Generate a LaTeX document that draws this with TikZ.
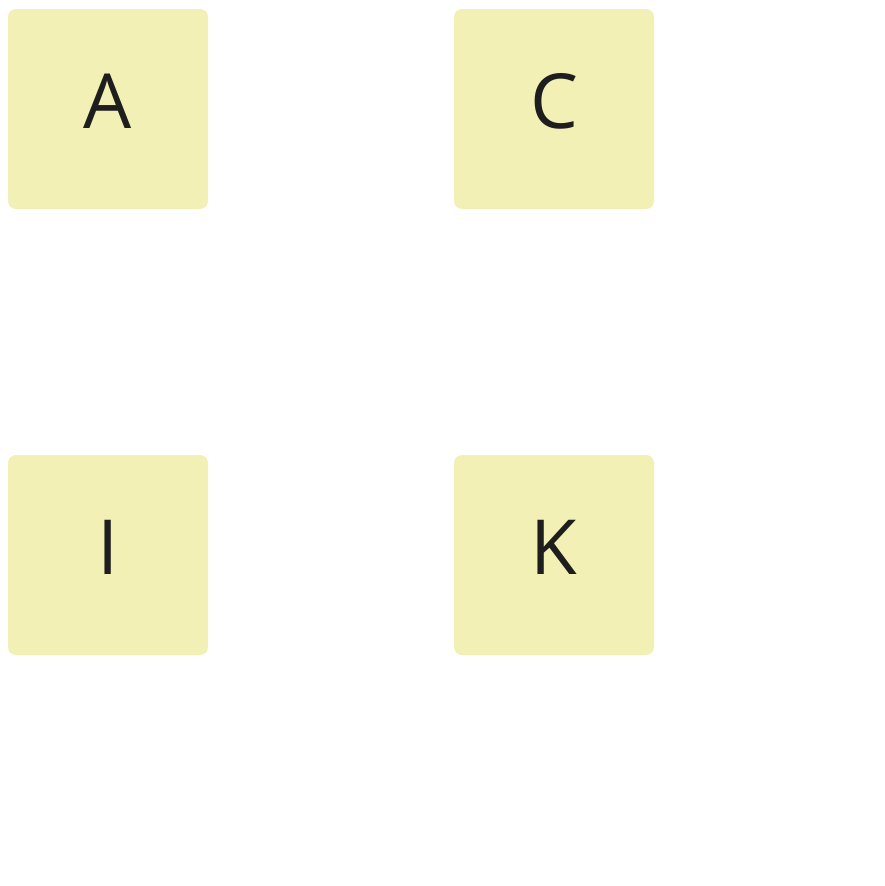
\documentclass[tikz,border=0pt]{standalone}
\usepackage{fontspec}
\setmainfont{Open Sans}
\definecolor{boxfill}{HTML}{F2F0B4}
\definecolor{txt}{HTML}{1E1E1E}
\begin{document}
\begin{tikzpicture}[x=1pt,y=-1pt,
  card/.style={fill=boxfill, draw=none, rounded corners=8pt},
  lbl/.style={anchor=base, inner sep=0pt, text=txt, font=\fontsize{76}{76}\selectfont}]
\useasboundingbox (0,0) rectangle (885,886);
\fill[card] (8,9) rectangle (208,209);
\fill[card] (454,9) rectangle (654,209);
\fill[card] (8,455) rectangle (208,655);
\fill[card] (454,455) rectangle (654,655);
\node[lbl] (A) at (108,128) {A};
\node[lbl] (C) at (554,128) {C};
\node[lbl] (I) at (108,574) {I};
\node[lbl] (K) at (554,574) {K};
\end{tikzpicture}
\end{document}
